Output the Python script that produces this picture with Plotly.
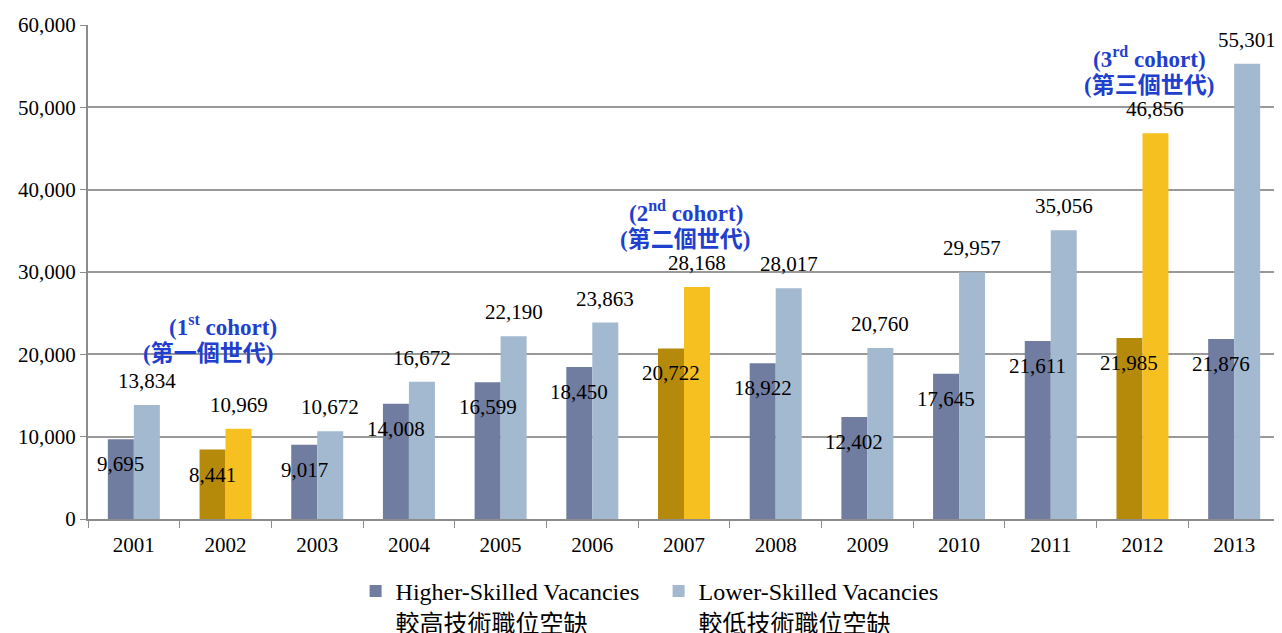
import plotly.graph_objects as go

# ── data ──────────────────────────────────────────────────────────────────────
years = ["2001", "2002", "2003", "2004", "2005", "2006", "2007",
         "2008", "2009", "2010", "2011", "2012", "2013"]
higher_skilled = [9695, 8441, 9017, 14008, 16599, 18450, 20722,
                  18922, 12402, 17645, 21611, 21985, 21876]
lower_skilled = [13834, 10969, 10672, 16672, 22190, 23863, 28168,
                 28017, 20760, 29957, 35056, 46856, 55301]
cohort_years = ["2002", "2007", "2012"]
cohort_en = ["(1<sup>st</sup> cohort)", "(2<sup>nd</sup> cohort)",
             "(3<sup>rd</sup> cohort)"]
cohort_zh = ["(第一個世代)", "(第二個世代)", "(第三個世代)"]
y_ticks = [0, 10000, 20000, 30000, 40000, 50000, 60000]

# label placement for the cohort notes
cohort_y_en = [23500, 37350, 56000]
cohort_y_zh = [20150, 33900, 52600]
cohort_dx_en = [-3, 2, 7]
cohort_dx_zh = [-18, 1, 7]

# ── colours / fonts ───────────────────────────────────────────────────────────
HI, LO = "#717ca1", "#a2b9d0"
HI_C, LO_C = "#b5890a", "#f6c120"
BLUE = "#1f3fcf"
hi_colors = [HI_C if y in cohort_years else HI for y in years]
lo_colors = [LO_C if y in cohort_years else LO for y in years]

FONT = "Liberation Serif, Times New Roman, Noto Sans CJK TC"
BAR_HALF = 13  # px, half a bar width -> offset of each bar from category centre

fig = go.Figure()
fig.add_trace(go.Bar(
    x=years, y=higher_skilled, name="Higher-Skilled Vacancies<br>較高技術職位空缺",
    marker=dict(color=hi_colors, line=dict(width=0)),
))
fig.add_trace(go.Bar(
    x=years, y=lower_skilled, name="Lower-Skilled Vacancies<br>較低技術職位空缺",
    marker=dict(color=lo_colors, line=dict(width=0)),
))

# value labels (higher: inside top of bar, overflowing; lower: above bar)
for i, (h, l) in enumerate(zip(higher_skilled, lower_skilled)):
    fig.add_annotation(x=i, y=h, text=f"{h:,}", showarrow=False,
                       xshift=-BAR_HALF, yshift=-25, yanchor="middle",
                       font=dict(size=21, family=FONT, color="black"))
    fig.add_annotation(x=i, y=l, text=f"{l:,}", showarrow=False,
                       xshift=BAR_HALF, yshift=24, yanchor="middle",
                       font=dict(size=21, family=FONT, color="black"))

# cohort notes
for k, yr in enumerate(cohort_years):
    i = years.index(yr)
    fig.add_annotation(x=i, y=cohort_y_en[k], text=f"<b>{cohort_en[k]}</b>",
                       showarrow=False, xshift=cohort_dx_en[k],
                       yanchor="middle",
                       font=dict(color=BLUE, size=23, family=FONT))
    fig.add_annotation(x=i, y=cohort_y_zh[k], text=f"<b>{cohort_zh[k]}</b>",
                       showarrow=False, xshift=cohort_dx_zh[k],
                       yanchor="middle",
                       font=dict(color=BLUE, size=23, family=FONT))

# page body adds an 8px margin, so the figure is sized/offset to compensate
fig.update_layout(
    width=1274, height=625,
    margin=dict(l=80, r=2, t=17, b=114, autoexpand=False),
    paper_bgcolor="white", plot_bgcolor="white",
    barmode="group", bargap=0.433, bargroupgap=0,
    font=dict(family=FONT, size=21, color="black"),
    showlegend=True,
    legend=dict(orientation="h", x=0.2245, xanchor="left", y=-0.101,
                yanchor="top", font=dict(size=24, family=FONT),
                valign="top", traceorder="normal", entrywidth=258),
)
fig.update_xaxes(type="category", range=[-0.5, len(years) - 0.5],
                 showgrid=False, showline=True,
                 linecolor="#8c8c8c", linewidth=2, ticks="outside",
                 tickson="boundaries", ticklen=7, tickcolor="#8c8c8c",
                 ticklabelstandoff=6,
                 tickfont=dict(size=21, family=FONT))
fig.update_yaxes(range=[0, 60000], tickvals=y_ticks,
                 ticktext=[f"{v:,}" for v in y_ticks],
                 showgrid=True, gridcolor="#999999", gridwidth=2,
                 showline=True, linecolor="#8c8c8c", linewidth=2,
                 ticks="outside", ticklen=6, tickcolor="#8c8c8c",
                 tickfont=dict(size=21, family=FONT), zeroline=False)

fig.write_html("out.html")
